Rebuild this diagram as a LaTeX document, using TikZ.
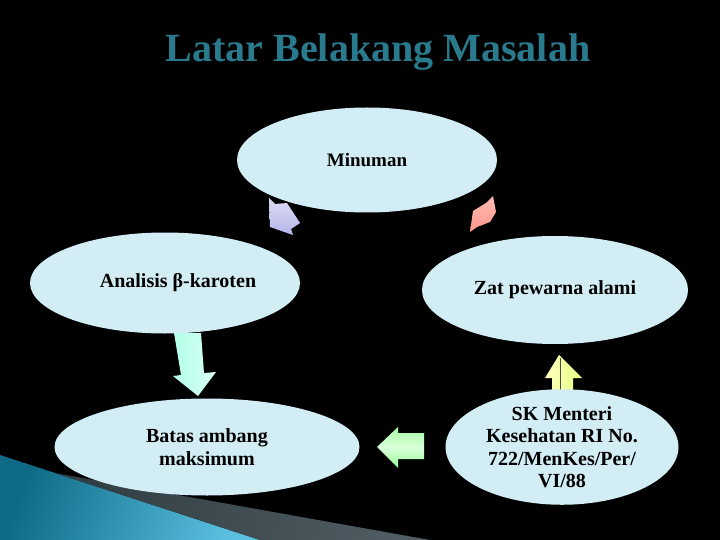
\documentclass[tikz,border=0pt]{standalone}
\usepackage{fontspec}
\setmainfont{Liberation Serif}
\usetikzlibrary{shapes.geometric}
\definecolor{bubblefill}{HTML}{D3EDF5}
\definecolor{titleteal}{HTML}{2A7A8E}
\definecolor{decodark}{HTML}{0E6A86}
\definecolor{decolight}{HTML}{5BC0E0}
\definecolor{slate}{HTML}{3C4C53}
\tikzset{bubble/.style={ellipse, fill=bubblefill, inner sep=0pt, align=center,
    font=\fontsize{20}{22.5}\selectfont\bfseries},
  blockarrow/.style={draw=none}}

\begin{document}
\begin{tikzpicture}[x=1pt,y=-1pt]
  \useasboundingbox[fill=black] (0,0) rectangle (720,540);

  % corner decoration
  \shade[left color=decodark, right color=decolight, shading angle=70]
    (0,455) -- (260,540) -- (0,540) -- cycle;
  \shade[left color=slate!80!black, right color=slate!90!white, shading angle=80]
    (55,473) -- (430,540) -- (260,540) -- cycle;

  \node[font=\fontsize{40}{44}\selectfont\bfseries, text=titleteal] (title) at (378,52)
    {Latar Belakang Masalah};

  % arrows (drawn before the bubbles)
  \shade[blockarrow, top color=blue!10!white!90!gray, bottom color=blue!25!white!85!gray]
    (269,198) -- (275,204) -- (287,203) -- (300,223) -- (291,229) -- (293,235) -- (270,227) -- cycle;
  \shade[blockarrow, top color=red!25!white!95!orange, bottom color=red!40!white!90!orange]
    (493,196) -- (496,212) -- (490,222) -- (477,227) -- (470,232) -- (473,211) -- (486,203) -- cycle;
  \shade[blockarrow, left color=green!30!cyan!30!white, right color=green!25!cyan!15!white]
    (174,333) -- (201,333) -- (204,373) -- (216,372) -- (198,396) -- (173,376) -- (181,375) -- cycle;
  \shade[blockarrow, top color=green!35!white, bottom color=green!40!white, middle color=green!15!white]
    (377,447) -- (398,427) -- (398,433) -- (424,433) -- (424,459) -- (398,459) -- (398,468) -- cycle;
  \shade[blockarrow, left color=yellow!25!white, right color=yellow!45!white!90!green]
    (559,355) -- (582,378) -- (573,378) -- (573,395) -- (552,395) -- (552,378) -- (545,378) -- cycle;
  \draw[gray!60!black, line width=0.8pt] (560,358) -- (560,395);

  \node[bubble, minimum width=260, minimum height=105] (minuman) at (367,160)
    {\fontsize{19}{22}\selectfont Minuman};
  \node[bubble, minimum width=270, minimum height=101] (analisis) at (165,283)
    {\hspace*{26pt}Analisis β-karoten};
  \node[bubble, minimum width=266, minimum height=108] (zat) at (555,290)
    {Zat pewarna alami};
  \node[bubble, minimum width=305, minimum height=97] (batas) at (207,447)
    {Batas ambang\\maksimum};
  \node[bubble, minimum width=233, minimum height=107] (sk) at (562,447)
    {SK Menteri\\Kesehatan RI No.\\722/MenKes/Per/\\VI/88};
\end{tikzpicture}
\end{document}
